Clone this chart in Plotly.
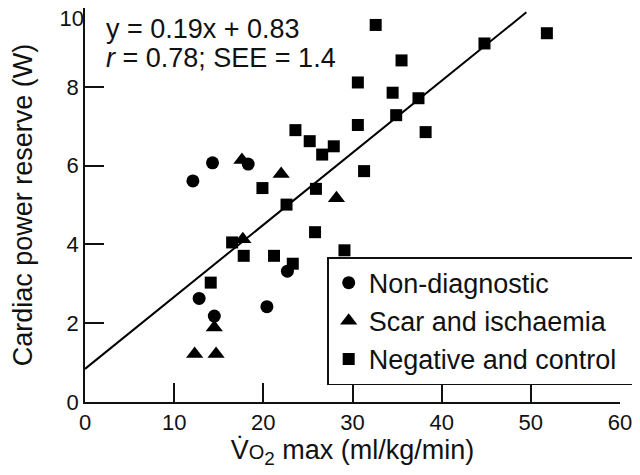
import plotly.graph_objects as go

# Non-diagnostic (circles)
nd_x = [12.1, 14.3, 18.3, 22.7, 12.8, 14.5, 20.4]
nd_y = [5.61, 6.07, 6.04, 3.32, 2.63, 2.18, 2.42]

# Scar and ischaemia (triangles)
si_x = [17.6, 22.0, 28.2, 17.7, 14.5, 12.3, 14.7]
si_y = [6.14, 5.79, 5.17, 4.13, 1.89, 1.22, 1.22]

# Negative and control (squares)
nc_x = [19.9, 23.6, 25.2, 26.6, 27.9, 25.9, 22.6, 32.6, 35.5, 30.6, 34.5, 37.4, 34.9,
        30.6, 38.2, 31.3, 44.8, 51.8, 16.5, 17.8, 21.2, 23.3, 25.8, 29.1, 14.1]
nc_y = [5.43, 6.90, 6.62, 6.28, 6.49, 5.41, 5.01, 9.57, 8.67, 8.11, 7.85, 7.71, 7.28,
        7.03, 6.85, 5.86, 9.10, 9.36, 4.05, 3.71, 3.71, 3.51, 4.31, 3.85, 3.03]

# Regression line endpoints as drawn
fit_x = [0, 49.5]
fit_y = [0.84, 9.89]

x_ticks = [0, 10, 20, 30, 40, 50, 60]
y_ticks = [0, 2, 4, 6, 8, 10]
y_labels = ["0", "2", "4", "6", "8", ""]
y_top_tick = [10]
y_top_label = ["10"]

FONT = "Liberation Sans, Arial, Helvetica, sans-serif"
Y_RANGE = [0, 10.0001]

fig = go.Figure()
fig.add_trace(go.Scatter(x=fit_x, y=fit_y, mode="lines", line=dict(color="black", width=2),
                         showlegend=False, hoverinfo="skip", yaxis="y2"))
fig.add_trace(go.Scatter(x=nd_x, y=nd_y, mode="markers", name="Non-diagnostic",
                         marker=dict(symbol="circle", size=13, color="black")))
fig.add_trace(go.Scatter(x=si_x, y=si_y, mode="markers", name="Scar and ischaemia",
                         marker=dict(symbol="triangle-up", size=15, color="black")))
fig.add_trace(go.Scatter(x=nc_x, y=nc_y, mode="markers", name="Negative and control\u00a0\u00a0",
                         marker=dict(symbol="square", size=12, color="black")))

axis_common = dict(showline=True, linecolor="#111", linewidth=1.5, ticks="inside",
                   ticklen=19, tickwidth=1.5, tickcolor="#111", showgrid=False,
                   zeroline=False, automargin=False, ticklabeloverflow="allow",
                   tickfont=dict(size=22, color="#111", family=FONT))

fig.update_layout(
    xaxis=dict(range=[0, 60.0001], tickvals=x_ticks,
               title=dict(text="V\u0307<span style='font-size:20px'>O</span><sub>2</sub> max (ml/kg/min)",
                          font=dict(size=27, color="#111", family=FONT), standoff=0),
               **axis_common),
    yaxis=dict(range=Y_RANGE, tickmode="array", tickvals=y_ticks, ticktext=y_labels,
               title=dict(text="Cardiac power reserve (W)",
                          font=dict(size=27, color="#111", family=FONT), standoff=44),
               **axis_common),
    yaxis2=dict(range=Y_RANGE, overlaying="y", side="left", anchor="x",
                tickmode="array", tickvals=y_top_tick, ticktext=y_top_label,
                ticks="", showline=False, showgrid=False, zeroline=False,
                automargin=False, ticklabeloverflow="allow", ticklabelshift=10,
                tickfont=dict(size=22, color="#111", family=FONT)),
)

fig.add_annotation(x=0.035, y=0.9475, xref="paper", yref="paper", xanchor="left", yanchor="middle",
                   text="y = 0.19x + 0.83", showarrow=False,
                   font=dict(size=27, color="#111", family=FONT))
fig.add_annotation(x=0.035, y=0.874, xref="paper", yref="paper", xanchor="left", yanchor="middle",
                   text="<i>r</i> = 0.78; SEE = 1.4", showarrow=False,
                   font=dict(size=27, color="#111", family=FONT))

fig.update_layout(
    width=632, height=467,
    margin=dict(l=77, r=20.4, t=0, b=72.7, autoexpand=False),
    plot_bgcolor="white", paper_bgcolor="white",
    font=dict(family=FONT, color="#111"),
    legend=dict(x=0.4527, y=0.3677, xanchor="left", yanchor="top",
                bordercolor="#111", borderwidth=1.5, bgcolor="white",
                font=dict(size=27, color="#111", family=FONT)),
)

fig.write_html("out.html")
